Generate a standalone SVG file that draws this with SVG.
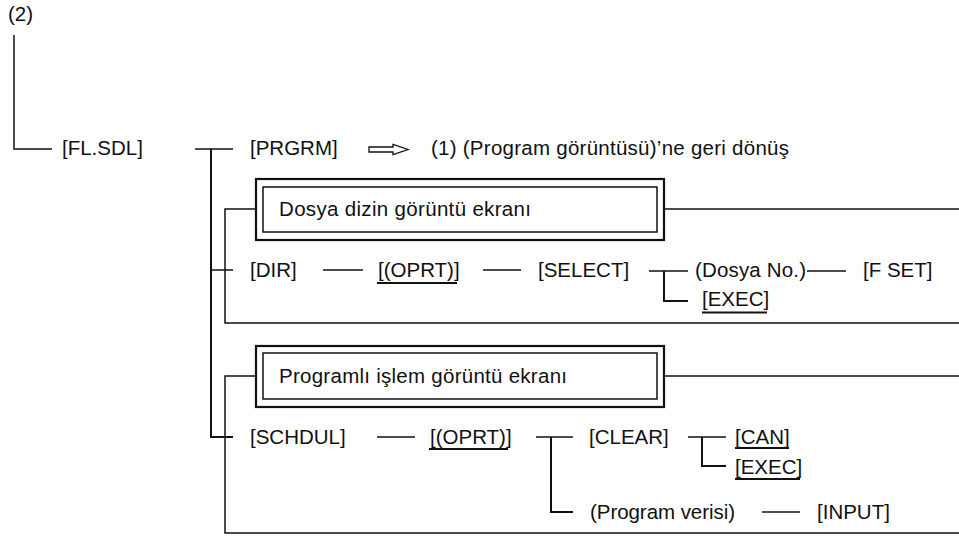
<svg xmlns="http://www.w3.org/2000/svg" width="959" height="540" viewBox="0 0 959 540">
  <style>
    text { font-family: "Liberation Sans", Arial, Helvetica, sans-serif; font-size: 20.5px; fill: #111; }
    .ln { stroke: #111; stroke-width: 1.5; fill: none; }
    .trunk { stroke: #111; stroke-width: 2; fill: none; }
    .ul { stroke: #111; stroke-width: 2.2; }
    .outer { fill: #fff; stroke: #111; stroke-width: 2.2; }
    .inner { fill: #fff; stroke: #111; stroke-width: 1.5; }
  </style>
  <rect width="959" height="540" fill="#fff"/>

  <!-- connectors -->
  <g id="connectors">
    <path class="ln" d="M14 35 V149 H52"/>
    <path class="ln" d="M195 149 H233"/>
    <path class="trunk" d="M211 149 V437 H233"/>
    <path class="ln" d="M211 270 H233"/>
    <!-- directory screen bracket -->
    <path class="ln" d="M256 209 H225 V323 H959"/>
    <path class="ln" d="M664 209 H959"/>
    <path class="ln" d="M323 270 H363"/>
    <path class="ln" d="M483 270 H521"/>
    <path class="ln" d="M649 271 H688"/>
    <path class="trunk" d="M664 271 V301 H688"/>
    <path class="ln" d="M807 271 H846"/>
    <!-- schedule screen bracket -->
    <path class="ln" d="M256 376 H225 V533 H959"/>
    <path class="ln" d="M664 376 H959"/>
    <path class="ln" d="M377 437 H415"/>
    <path class="ln" d="M536 437 H573"/>
    <path class="trunk" d="M551 437 V512 H573"/>
    <path class="ln" d="M688 437 H726"/>
    <path class="trunk" d="M702 437 V466 H726"/>
    <path class="ln" d="M762 512 H800"/>
    <!-- hollow arrow -->
    <polygon points="369,147 393,147 393,144.5 408,149.5 393,154.5 393,152 369,152" fill="#fff" stroke="#111" stroke-width="1.3"/>
  </g>

  <g id="n-label2"><text x="8" y="21">(2)</text></g>
  <g id="n-flsdl"><text x="62" y="155">[FL.SDL]</text></g>
  <g id="n-prgrm"><text x="250" y="155">[PRGRM]</text></g>
  <g id="n-return"><text x="431" y="155" textLength="358" lengthAdjust="spacing">(1) (Program görüntüsü)’ne geri dönüş</text></g>

  <g id="n-dirscreen">
    <rect class="outer" x="256" y="179" width="408" height="61"/>
    <rect class="inner" x="263" y="187" width="394" height="45"/>
    <text x="279" y="216" textLength="252" lengthAdjust="spacing">Dosya dizin görüntü ekranı</text>
  </g>

  <g id="n-dir"><text x="250" y="277">[DIR]</text></g>
  <g id="n-oprt1">
    <text x="378" y="277">[(OPRT)]</text>
    <line class="ul" x1="377" y1="283" x2="457" y2="283"/>
  </g>
  <g id="n-select"><text x="538" y="277">[SELECT]</text></g>
  <g id="n-dosyano"><text x="695" y="277" textLength="111" lengthAdjust="spacing">(Dosya No.)</text></g>
  <g id="n-fset"><text x="863" y="277">[F SET]</text></g>
  <g id="n-exec1">
    <text x="702" y="306">[EXEC]</text>
    <line class="ul" x1="702" y1="312.5" x2="767" y2="312.5"/>
  </g>

  <g id="n-schedscreen">
    <rect class="outer" x="256" y="346" width="408" height="61"/>
    <rect class="inner" x="263" y="353" width="394" height="46"/>
    <text x="279" y="383" textLength="288" lengthAdjust="spacing">Programlı işlem görüntü ekranı</text>
  </g>

  <g id="n-schdul"><text x="250" y="444">[SCHDUL]</text></g>
  <g id="n-oprt2">
    <text x="430" y="444">[(OPRT)]</text>
    <line class="ul" x1="429" y1="449" x2="508" y2="449"/>
  </g>
  <g id="n-clear"><text x="589" y="444">[CLEAR]</text></g>
  <g id="n-can">
    <text x="735" y="444">[CAN]</text>
    <line class="ul" x1="735" y1="448" x2="789" y2="448"/>
  </g>
  <g id="n-exec2">
    <text x="735" y="474">[EXEC]</text>
    <line class="ul" x1="735" y1="479" x2="800" y2="479"/>
  </g>
  <g id="n-progdata"><text x="590" y="519" textLength="145" lengthAdjust="spacing">(Program verisi)</text></g>
  <g id="n-input"><text x="817" y="519">[INPUT]</text></g>
</svg>
